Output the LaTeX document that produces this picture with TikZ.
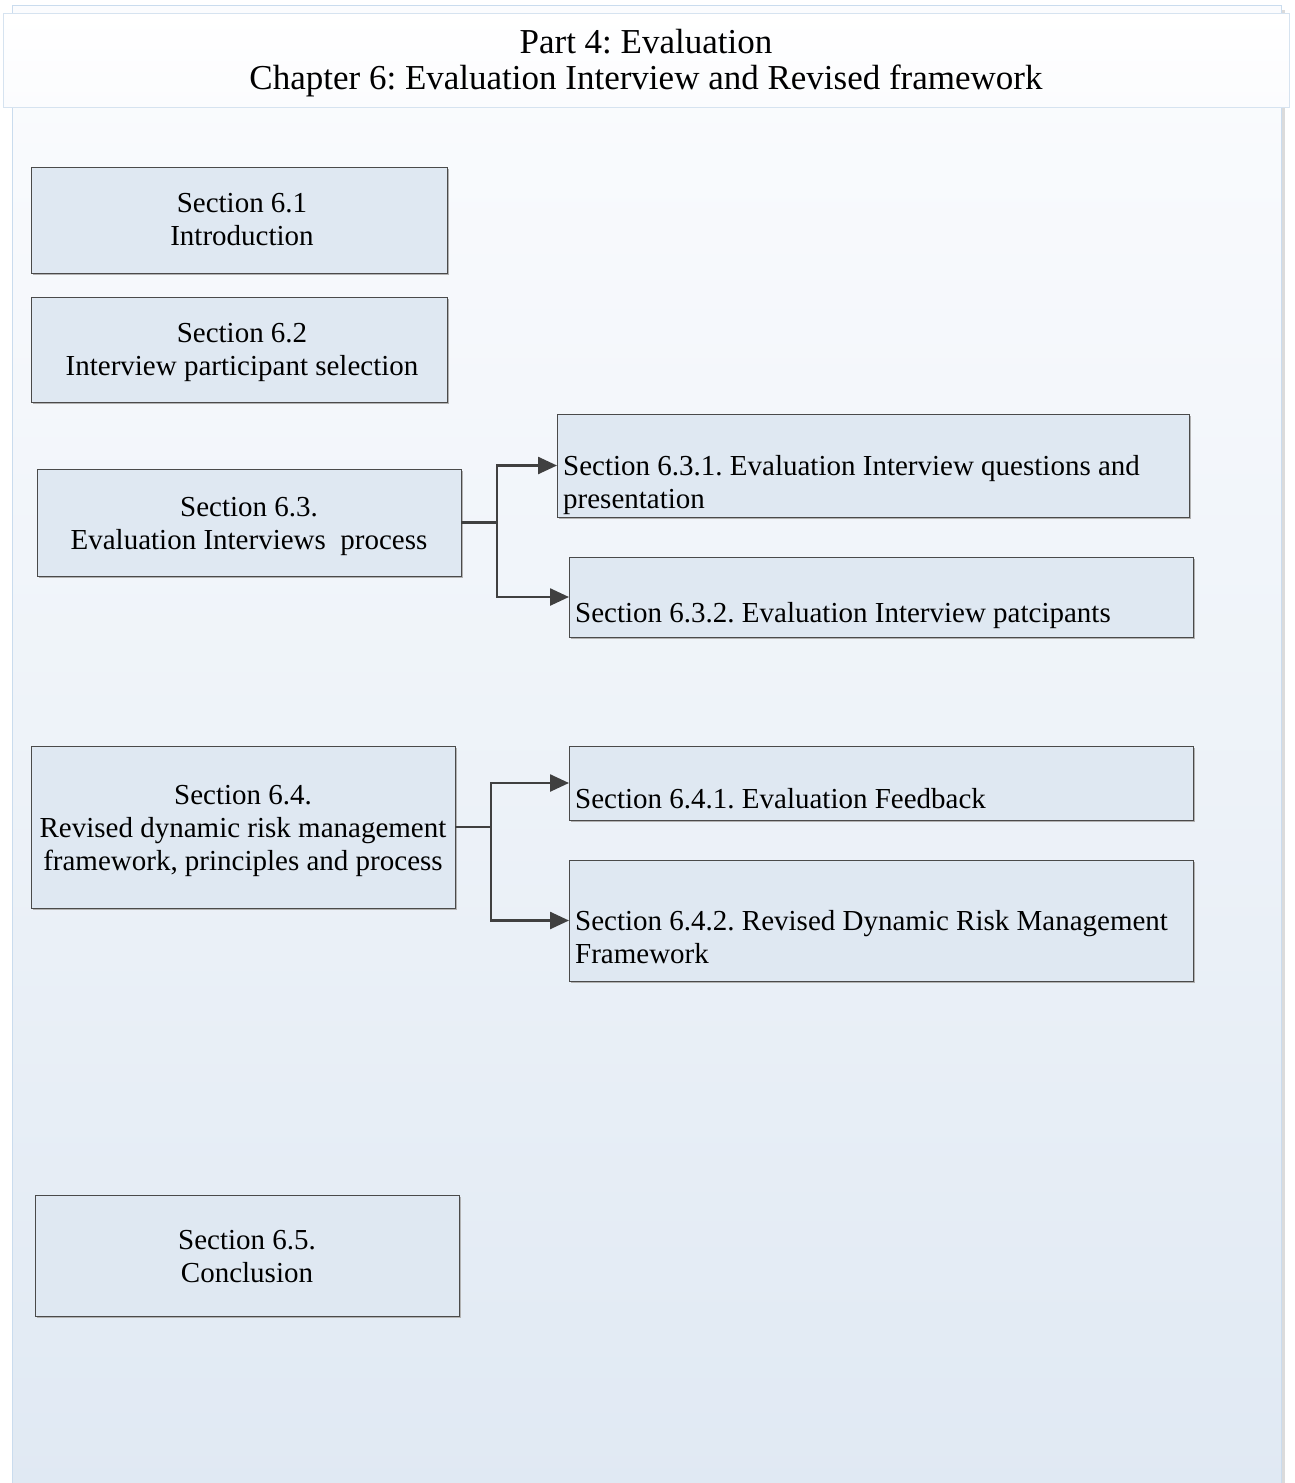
\documentclass[tikz,border=0pt]{standalone}
\usepackage{fontspec}
\setmainfont{Liberation Serif}
\usetikzlibrary{arrows.meta,shadows}
\frenchspacing
\definecolor{boxfill}{HTML}{DFE8F2}
\definecolor{boxline}{HTML}{4A4A4A}
\definecolor{connline}{HTML}{404040}
\definecolor{frameline}{HTML}{CADCEE}
\definecolor{frametop}{HTML}{FBFCFE}
\definecolor{framebot}{HTML}{E0E9F3}
\definecolor{titleline}{HTML}{D6E3F0}
\begin{document}
\begin{tikzpicture}[x=1pt,y=-1pt,
  box/.style={draw=boxline, fill=boxfill, line width=1pt, inner sep=0pt, outer sep=0pt,
    drop shadow={shadow xshift=2pt, shadow yshift=-2pt, fill=black!30, opacity=1}},
  txt/.style={inner sep=0pt, font=\fontsize{29}{33}\selectfont, text=black},
  conn/.style={draw=connline, line width=2.5pt, line join=miter,
    -{Triangle[length=19pt,width=17pt]}}]
\useasboundingbox (0,0) rectangle (1294,1483);

% page frame with soft shadow
\fill[black!14] (1281,10) rectangle (1285,1495);
\node[draw=frameline, line width=1pt, top color=frametop, bottom color=framebot,
  minimum width=1269pt, minimum height=1490pt, inner sep=0pt] (frame) at (646.5,750) {};

% title band
\node[draw=titleline, line width=1pt, top color=white, bottom color=frametop,
  minimum width=1286pt, minimum height=94pt, inner sep=0pt] (title) at (646,60) {};
\node[inner sep=0pt, align=center, font=\fontsize{35}{36}\selectfont] (titletext) at (646,63)
  {Part 4: Evaluation\\Chapter 6: Evaluation Interview and Revised framework};

% section boxes
\node[box, minimum width=416pt, minimum height=106pt] (b61) at (239,220) {};
\node[box, minimum width=416pt, minimum height=105pt] (b62) at (239,349.5) {};
\node[box, minimum width=424pt, minimum height=107pt] (b63) at (249,522.5) {};
\node[box, minimum width=632pt, minimum height=103pt] (b631) at (873,465.5) {};
\node[box, minimum width=624pt, minimum height=80pt] (b632) at (881,597) {};
\node[box, minimum width=424pt, minimum height=162pt] (b64) at (243,827) {};
\node[box, minimum width=624pt, minimum height=74pt] (b641) at (881,783) {};
\node[box, minimum width=624pt, minimum height=121pt] (b642) at (881,920.5) {};
\node[box, minimum width=424pt, minimum height=121pt] (b65) at (247,1255.5) {};

% section texts
\node[txt, align=center] (t61) at (242,220) {Section 6.1\\Introduction};
\node[txt, align=center] (t62) at (242,352) {Section 6.2\\Interview participant selection};
\node[txt, align=center] (t63) at (249,526) {Section 6.3.\\Evaluation Interviews\ \ process};
\node[txt, align=left, anchor=west] (t631) at (563,485)
  {Section 6.3.1. Evaluation Interview questions and\\presentation};
\node[txt, align=left, anchor=west] (t632) at (575,616) {Section 6.3.2. Evaluation Interview patcipants};
\node[txt, align=center] (t64) at (243,831)
  {Section 6.4.\\Revised dynamic risk management\\framework, principles and process};
\node[txt, align=left, anchor=west] (t641) at (575,799) {Section 6.4.1. Evaluation Feedback};
\node[txt, align=left, anchor=west] (t642) at (575,937.5)
  {Section 6.4.2. Revised Dynamic Risk Management\\Framework};
\node[txt, align=center] (t65) at (247,1256.5) {Section 6.5.\\Conclusion};

% connectors
\coordinate (j63) at (497,522.5);
\draw[conn] (b63.east) -- (j63) |- (b631.west);
\draw[conn] (b63.east) -- (j63) |- (b632.west);
\coordinate (j64) at (491,827);
\draw[conn] (b64.east) -- (j64) |- (b641.west);
\draw[conn] (b64.east) -- (j64) |- (b642.west);
\end{tikzpicture}
\end{document}
